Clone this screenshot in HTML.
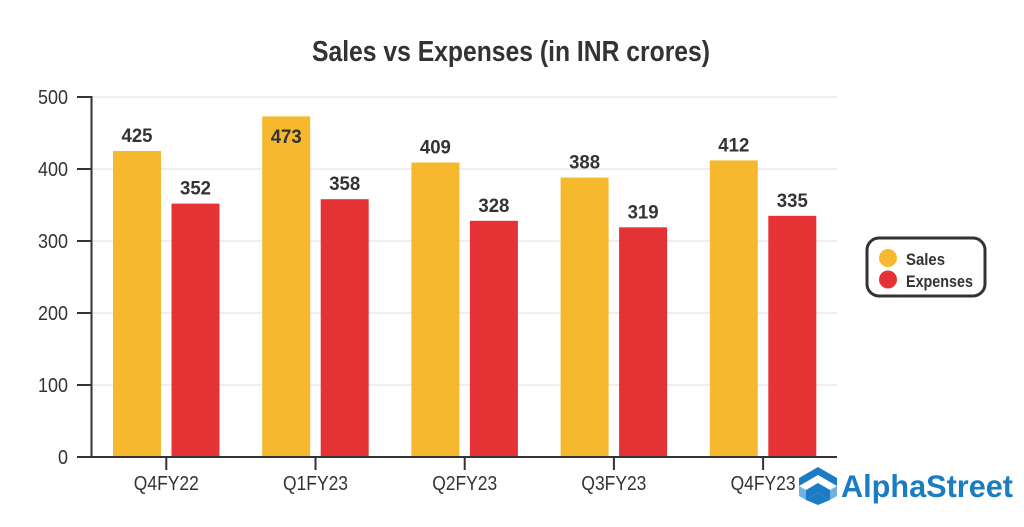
<!DOCTYPE html>
<html>
<head>
<meta charset="utf-8">
<style>
html,body{margin:0;padding:0;background:#fff;}
svg{display:block;}
text{font-family:"Liberation Sans",sans-serif;}
</style>
</head>
<body>
<svg width="1024" height="527" viewBox="0 0 1024 527" xmlns="http://www.w3.org/2000/svg">
<rect width="1024" height="527" fill="#fff"/>
<!-- Title -->
<text x="312" y="61" font-size="29" font-weight="bold" fill="#333" textLength="398" lengthAdjust="spacingAndGlyphs">Sales vs Expenses (in INR crores)</text>

<!-- gridlines -->
<g stroke="#e3e3e3" stroke-width="1.3">
<line x1="92" y1="97" x2="837" y2="97"/>
<line x1="92" y1="169" x2="837" y2="169"/>
<line x1="92" y1="241" x2="837" y2="241"/>
<line x1="92" y1="313" x2="837" y2="313"/>
<line x1="92" y1="385" x2="837" y2="385"/>
</g>

<!-- bars -->
<g>
<rect x="113" y="151" width="48" height="306" fill="#F5B82E"/>
<rect x="171.5" y="203.6" width="48" height="253.4" fill="#E53335"/>

<rect x="262.2" y="116.4" width="48" height="340.6" fill="#F5B82E"/>
<rect x="320.7" y="199.2" width="48" height="257.8" fill="#E53335"/>

<rect x="411.4" y="162.5" width="48" height="294.5" fill="#F5B82E"/>
<rect x="469.9" y="220.8" width="48" height="236.2" fill="#E53335"/>

<rect x="560.6" y="177.6" width="48" height="279.4" fill="#F5B82E"/>
<rect x="619.1" y="227.3" width="48" height="229.7" fill="#E53335"/>

<rect x="709.8" y="160.4" width="48" height="296.6" fill="#F5B82E"/>
<rect x="768.3" y="215.8" width="48" height="241.2" fill="#E53335"/>
</g>

<!-- value labels -->
<g font-size="19" font-weight="bold" fill="#333" text-anchor="middle">
<text x="137" y="142" textLength="31" lengthAdjust="spacingAndGlyphs">425</text>
<text x="195.5" y="194.6" textLength="31" lengthAdjust="spacingAndGlyphs">352</text>
<text x="286.2" y="143" textLength="31" lengthAdjust="spacingAndGlyphs">473</text>
<text x="344.7" y="190.2" textLength="31" lengthAdjust="spacingAndGlyphs">358</text>
<text x="435.4" y="153.5" textLength="31" lengthAdjust="spacingAndGlyphs">409</text>
<text x="493.9" y="211.8" textLength="31" lengthAdjust="spacingAndGlyphs">328</text>
<text x="584.6" y="168.6" textLength="31" lengthAdjust="spacingAndGlyphs">388</text>
<text x="643.1" y="218.3" textLength="31" lengthAdjust="spacingAndGlyphs">319</text>
<text x="733.8" y="151.4" textLength="31" lengthAdjust="spacingAndGlyphs">412</text>
<text x="792.3" y="206.8" textLength="31" lengthAdjust="spacingAndGlyphs">335</text>
</g>

<!-- axes -->
<g stroke="#333" stroke-width="2">
<line x1="91.5" y1="96" x2="91.5" y2="458"/>
<line x1="77" y1="457" x2="837" y2="457"/>
<line x1="77" y1="97" x2="92" y2="97"/>
<line x1="77" y1="169" x2="92" y2="169"/>
<line x1="77" y1="241" x2="92" y2="241"/>
<line x1="77" y1="313" x2="92" y2="313"/>
<line x1="77" y1="385" x2="92" y2="385"/>
<line x1="166.3" y1="457" x2="166.3" y2="470"/>
<line x1="315.5" y1="457" x2="315.5" y2="470"/>
<line x1="464.7" y1="457" x2="464.7" y2="470"/>
<line x1="613.9" y1="457" x2="613.9" y2="470"/>
<line x1="763.1" y1="457" x2="763.1" y2="470"/>
</g>

<!-- y labels -->
<g font-size="20.5" fill="#333" text-anchor="end">
<text x="68" y="104" textLength="30" lengthAdjust="spacingAndGlyphs">500</text>
<text x="68" y="176" textLength="30" lengthAdjust="spacingAndGlyphs">400</text>
<text x="68" y="248" textLength="30" lengthAdjust="spacingAndGlyphs">300</text>
<text x="68" y="320" textLength="30" lengthAdjust="spacingAndGlyphs">200</text>
<text x="68" y="392" textLength="30" lengthAdjust="spacingAndGlyphs">100</text>
<text x="68" y="464" textLength="10" lengthAdjust="spacingAndGlyphs">0</text>
</g>

<!-- x labels -->
<g font-size="20" fill="#333" text-anchor="middle">
<text x="166.3" y="490" textLength="65" lengthAdjust="spacingAndGlyphs">Q4FY22</text>
<text x="315.5" y="490" textLength="65" lengthAdjust="spacingAndGlyphs">Q1FY23</text>
<text x="464.7" y="490" textLength="65" lengthAdjust="spacingAndGlyphs">Q2FY23</text>
<text x="613.9" y="490" textLength="65" lengthAdjust="spacingAndGlyphs">Q3FY23</text>
<text x="763.1" y="490" textLength="65" lengthAdjust="spacingAndGlyphs">Q4FY23</text>
</g>

<!-- legend -->
<rect x="867" y="238" width="118" height="58" rx="12" ry="12" fill="#fff" stroke="#333" stroke-width="3"/>
<circle cx="888" cy="258" r="9" fill="#F5B82E"/>
<circle cx="888" cy="279.5" r="9" fill="#E53335"/>
<g font-size="17" font-weight="bold" fill="#333">
<text x="906" y="265" textLength="39" lengthAdjust="spacingAndGlyphs">Sales</text>
<text x="906" y="287" textLength="67" lengthAdjust="spacingAndGlyphs">Expenses</text>
</g>

<!-- logo -->
<g>
<polygon points="799,478 818,467 837,478 837,486 818,475 799,486" fill="#1b7cc4"/>
<polygon points="799,486 806,490 806,500 799,496" fill="#6fb1e0"/>
<polygon points="837,486 830,490 830,500 837,496" fill="#6fb1e0"/>
<polygon points="806,490 818,483 830,490 830,500 818,493 806,500" fill="#1b7cc4"/>
<polygon points="806,500 818,493 830,500 818,505" fill="#1b7cc4"/>
</g>
<text x="841" y="497" font-size="31.5" font-weight="bold" fill="#1a7dc2" textLength="172" lengthAdjust="spacingAndGlyphs">AlphaStreet</text>
</svg>
</body>
</html>
